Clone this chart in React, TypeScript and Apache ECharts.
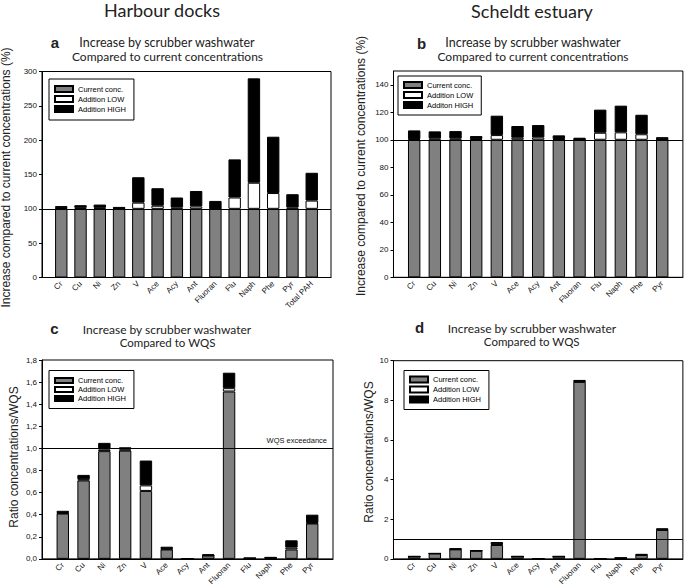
import React, { useEffect, useRef } from "react";
import * as echarts from "echarts";

// ---- Data ----
const catsA = ["Cr", "Cu", "Ni", "Zn", "V", "Ace", "Acy", "Ant", "Fluoran", "Flu", "Naph", "Phe", "Pyr", "Total PAH"];
const catsB = ["Cr", "Cu", "Ni", "Zn", "V", "Ace", "Acy", "Ant", "Fluoran", "Flu", "Naph", "Phe", "Pyr"];

// Panel a: Harbour docks, % of current concentrations
const aCurrent = [100, 100, 100, 100, 100, 100, 100, 100, 100, 100, 100, 100, 100, 100];
const aLowAdd = [1, 1.5, 1.5, 0.5, 9, 4.5, 2, 3.5, 0.5, 16.5, 38, 23, 2, 12];
const aHighAdd = [3, 3.8, 4.7, 2.3, 37, 25.5, 14.5, 22.5, 11, 55.5, 152, 82, 19.3, 40.5];

// Panel b: Scheldt estuary, % of current concentrations
const bCurrent = [100, 100, 100, 100, 100, 100, 100, 100, 100, 100, 100, 100, 100];
const bLowAdd = [0.5, 1, 1, 0.5, 3.4, 1.5, 1.7, 0.5, 0.3, 5.1, 5.4, 4, 0.3];
const bHighAdd = [6.3, 5.1, 5.3, 2.2, 14.1, 8.5, 9, 2.7, 1.2, 16.8, 19.4, 14.2, 1.6];

// Panel c: Harbour docks, ratio to WQS
const cCurrent = [0.41, 0.71, 0.975, 0.98, 0.615, 0.085, 0, 0.03, 1.515, 0.005, 0.008, 0.085, 0.32];
const cLowAdd = [0.005, 0.01, 0.015, 0.01, 0.05, 0.005, 0, 0.002, 0.03, 0, 0.002, 0.017, 0.005];
const cHighAdd = [0.02, 0.04, 0.06, 0.02, 0.225, 0.02, 0, 0.01, 0.14, 0.004, 0.006, 0.066, 0.075];

// Panel d: Scheldt estuary, ratio to WQS
const dCurrent = [0.12, 0.27, 0.48, 0.41, 0.7, 0.12, 0, 0.12, 8.93, 0, 0.04, 0.19, 1.46];
const dLowAdd = [0, 0, 0.01, 0, 0.03, 0, 0, 0, 0.02, 0, 0, 0.01, 0.02];
const dHighAdd = [0.01, 0.01, 0.04, 0.01, 0.12, 0.01, 0, 0.01, 0.08, 0, 0.01, 0.05, 0.06];

const namesStd = ["Current conc.", "Addition LOW", "Addition HIGH"];
const namesB = ["Current conc.", "Addition LOW", "Additon HIGH"];

const AX_FONT = "Liberation Sans, Arial, sans-serif";
const TITLE_FONT = "Lato, 'Open Sans', sans-serif";

const pad = (arr: any[]) => [null, ...arr, null];
const padCats = (arr: string[]) => ["", ...arr, ""];

function App() {
  const ref = useRef<HTMLDivElement>(null);

  useEffect(() => {
    if (!ref.current) return;
    document.body.style.margin = "0";
    const chart = echarts.init(ref.current, undefined, { renderer: "svg" });

    const grids = [
      { left: 42, top: 71.5, width: 289, height: 206 },
      { left: 393.5, top: 71, width: 290, height: 206.3 },
      { left: 42, top: 360, width: 291, height: 200 },
      { left: 393.5, top: 360.7, width: 290, height: 200 },
    ].map((g) => ({ ...g, show: true, borderColor: "#000", borderWidth: 1, backgroundColor: "transparent" }));

    const xCats = [catsA, catsB, catsB, catsB];
    const xAxis = xCats.map((c, i) => ({
      type: "category",
      gridIndex: i,
      data: padCats(c),
      boundaryGap: false,
      axisLine: { lineStyle: { color: "#000", width: 1 } },
      axisTick: { show: false },
      axisLabel: { rotate: 45, interval: 0, fontSize: 8, color: "#111", fontFamily: AX_FONT, margin: 5 },
      splitLine: { show: false },
    }));

    const yBase = (i: number, min: number, max: number, interval: number, fmt?: (v: number) => string) => ({
      type: "value",
      gridIndex: i,
      min,
      max,
      interval,
      axisLine: { show: true, lineStyle: { color: "#000", width: 1 } },
      axisTick: { show: true, inside: false, length: 3, lineStyle: { color: "#000" } },
      axisLabel: {
        fontSize: 8,
        color: "#111",
        fontFamily: AX_FONT,
        margin: 5,
        showMaxLabel: i === 1 ? false : true,
        formatter: fmt,
      },
      splitLine: { show: false },
    });

    const yAxis = [
      yBase(0, 0, 300, 50),
      yBase(1, 0, 150, 20),
      yBase(2, 0, 1.8, 0.2, (v: number) => v.toFixed(1).replace(".", ",")),
      yBase(3, 0, 10, 2),
    ];

    const panels = [
      { names: namesStd, cur: aCurrent, low: aLowAdd, high: aHighAdd, line: 100, label: "" },
      { names: namesB, cur: bCurrent, low: bLowAdd, high: bHighAdd, line: 100, label: "" },
      { names: namesStd, cur: cCurrent, low: cLowAdd, high: cHighAdd, line: 1, label: "WQS exceedance" },
      { names: namesStd, cur: dCurrent, low: dLowAdd, high: dHighAdd, line: 1, label: "" },
    ];
    const colors = ["#808080", "#ffffff", "#000000"];

    const series: any[] = [];
    panels.forEach((p, i) => {
      const dataSets = [p.cur, p.low, p.high];
      dataSets.forEach((d, k) => {
        const s: any = {
          type: "bar",
          name: p.names[k],
          xAxisIndex: i,
          yAxisIndex: i,
          stack: "stack" + i,
          data: pad(d),
          barWidth: 12.4,
          itemStyle: { color: colors[k], borderColor: "#000", borderWidth: 1 },
          emphasis: { disabled: true },
        };
        if (k === 0) {
          s.markLine = {
            silent: true,
            symbol: ["none", "none"],
            lineStyle: { color: "#000", width: 1, type: "solid" },
            label: p.label
              ? {
                  show: true,
                  position: "insideEndTop",
                  formatter: p.label,
                  fontSize: 7.5,
                  color: "#111",
                  fontFamily: AX_FONT,
                  distance: [6, 4],
                }
              : { show: false },
            data: [{ yAxis: p.line }],
          };
        }
        series.push(s);
      });
    });

    const legendBase = (
      names: string[],
      left: number,
      top: number,
      gap: number,
      lh: number,
      ih: number,
      padding: number[]
    ) => ({
      data: names,
      orient: "vertical",
      left,
      top,
      itemWidth: 18,
      itemHeight: ih,
      itemGap: gap,
      borderColor: "#000",
      borderWidth: 1,
      padding,
      selectedMode: false,
      textStyle: { fontSize: 7.5, lineHeight: lh, color: "#000", fontFamily: AX_FONT },
      icon: "rect",
    });

    const legend = [
      legendBase(namesStd, 49, 79, 2, 8, 6, [6, 8, 7, 5]),
      legendBase(namesB, 398, 76, 2, 8, 6, [5, 8, 6, 5]),
      legendBase(namesStd, 49, 370.5, 1, 7.5, 5, [6, 8, 6, 5]),
      legendBase(namesStd, 404, 370.5, 2, 8, 6, [5, 8, 6, 5]),
    ];

    const txt = (text: string, x: number, y: number, size: number, font: string, weight = "normal", rotation = 0) => ({
      type: "text",
      x,
      y,
      rotation,
      silent: true,
      style: {
        text,
        fontSize: size,
        fontFamily: font,
        fontWeight: weight,
        fill: "#222",
        align: "center",
        verticalAlign: "middle",
      },
    });

    const graphic = [
      txt("Harbour docks", 162, 10, 18, TITLE_FONT),
      txt("Scheldt estuary", 532, 10.5, 18, TITLE_FONT),
      txt("a", 55, 42.5, 15, AX_FONT, "bold"),
      txt("b", 421.5, 43, 15, AX_FONT, "bold"),
      txt("c", 54.5, 328, 15, AX_FONT, "bold"),
      txt("d", 419.5, 327, 15, AX_FONT, "bold"),
      txt("Increase by scrubber washwater", 167, 42, 12.5, TITLE_FONT),
      txt("Compared to current concentrations", 167.5, 56.5, 12, TITLE_FONT),
      txt("Increase by scrubber washwater", 533, 42, 12.5, TITLE_FONT),
      txt("Compared to current concentrations", 533, 56.5, 12, TITLE_FONT),
      txt("Increase by scrubber washwater", 167, 329.5, 12, TITLE_FONT),
      txt("Compared to WQS", 167.5, 342.5, 11.5, TITLE_FONT),
      txt("Increase by scrubber washwater", 532, 328, 12, TITLE_FONT),
      txt("Compared to WQS", 531.7, 341.5, 11.5, TITLE_FONT),
      txt("Increase compared to current concentrations (%)", 6, 177.5, 12, AX_FONT, "normal", Math.PI / 2),
      txt("Increase compared to current concentrations (%)", 361, 166, 12, AX_FONT, "normal", Math.PI / 2),
      txt("Ratio concentrations/WQS", 13.5, 457, 12, AX_FONT, "normal", Math.PI / 2),
      txt("Ratio concentrations/WQS", 369, 452, 12, AX_FONT, "normal", Math.PI / 2),
    ];

    chart.setOption({
      animation: false,
      backgroundColor: "#fff",
      grid: grids,
      xAxis,
      yAxis,
      legend,
      series,
      graphic,
    });

    return () => chart.dispose();
  }, []);

  return <div ref={ref} style={{ width: 685, height: 588, position: "absolute", left: 0, top: 0 }} />;
}

export default App;
